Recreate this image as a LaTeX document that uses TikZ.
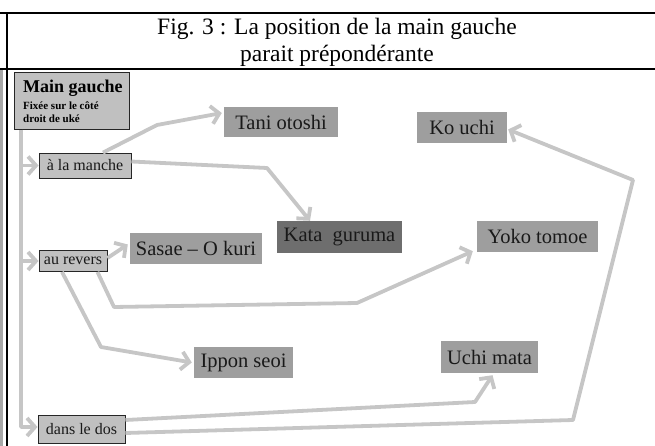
\documentclass[tikz,border=0pt]{standalone}
\usepackage{fontspec}
\setmainfont{Liberation Serif}
\usetikzlibrary{arrows.meta}
\definecolor{arrgray}{HTML}{C6C6C6}
\definecolor{boxlight}{HTML}{C0C0C0}
\definecolor{techgray}{HTML}{9E9E9E}
\definecolor{katagray}{HTML}{6E6E6E}
\definecolor{stripgray}{HTML}{A8A8A8}
\tikzset{
  frameline/.style={line width=2pt, black},
  smallbox/.style={draw=black!85, line width=0.9pt, fill=boxlight, inner sep=0pt,
     font=\fontsize{16}{17}\selectfont, text=black!90},
  techbox/.style={fill=techgray, inner sep=0pt, font=\fontsize{20.5}{22}\selectfont, text=black!90},
  katabox/.style={fill=katagray, inner sep=0pt, font=\fontsize{20.5}{22}\selectfont, text=black!90},
  mgline/.style={anchor=base west, inner sep=0pt, font=\bfseries\fontsize{11}{12}\selectfont},
  arrline/.style={draw=arrgray, line width=3.8pt, line join=round,
     -{Straight Barb[length=8pt,width=18pt]}}
}
\begin{document}
\begin{tikzpicture}[x=1pt,y=-1pt]
\useasboundingbox (0,0) rectangle (655,446);
% frame
\fill[stripgray] (0,69) rectangle (3,446);
\draw[frameline] (0,13) -- (655,13);
\draw[frameline] (0,69) -- (655,69);
\draw[frameline] (7,13) -- (7,446);
% title
\node[align=center, inner sep=0pt, font=\fontsize{23.5}{27.5}\selectfont] (title) at (337,42.5)
  {Fig. 3 : La position de la main gauche\\parait prépondérante};
% main box
\node[draw=black!85, line width=0.9pt, fill=boxlight, minimum width=115pt, minimum height=57pt,
      inner sep=0pt, anchor=north west] (mg) at (14,72) {};
\node[anchor=base west, inner sep=0pt, font=\bfseries\fontsize{18}{19}\selectfont] (mgt) at (23,93) {Main gauche};
\node[mgline] (mgs1) at (23,110) {Fixée sur le côté};
\node[mgline] (mgs2) at (23,122.5) {droit de uké};
% small boxes
\node[smallbox, minimum width=92pt, minimum height=25pt] (manche) at (85,165.5) {à la manche};
\node[smallbox, minimum width=68pt, minimum height=21pt] (revers) at (73,261) {au revers};
\node[smallbox, minimum width=87pt, minimum height=28pt] (dos) at (81.5,429) {dans le dos};
% technique boxes
\node[techbox, minimum width=114pt, minimum height=30pt] (tani) at (281,122) {Tani otoshi};
\node[katabox, minimum width=125pt, minimum height=32pt] (kata) at (339.5,237) {Kata~ guruma};
\node[techbox, minimum width=132pt, minimum height=31pt] (sasae) at (196,248.5) {Sasae – O kuri};
\node[techbox, minimum width=99pt, minimum height=31pt] (ippon) at (243.5,362.5) {Ippon seoi};
\node[techbox, minimum width=90pt, minimum height=31pt] (kouchi) at (462,127.5) {Ko uchi};
\node[techbox, minimum width=121pt, minimum height=31pt] (yoko) at (537.5,236.5) {Yoko tomoe};
\node[techbox, minimum width=97pt, minimum height=32pt] (uchi) at (489.5,357) {Uchi mata};
% bend coordinates
\coordinate (b1) at (157,125);
\coordinate (b2) at (267,168);
\coordinate (b3) at (114,307);
\coordinate (b4) at (357,303);
\coordinate (b5) at (101,347);
\coordinate (b6) at (475,402);
\coordinate (b7) at (573,420);
\coordinate (b8) at (633,180);
% arrows
\draw[arrline] ([xshift=7pt]mg.south west) |- (manche.west);
\draw[arrline] ([xshift=7pt]mg.south west) |- (revers.west);
\draw[arrline] ([xshift=7pt]mg.south west) |- ([yshift=2pt]dos.west);
\draw[arrline] ([xshift=18pt]manche.north) -- (b1) -- ([xshift=-2pt,yshift=9pt]tani.west);
\draw[arrline] ([yshift=4pt]manche.east) -- (b2) -- ([xshift=-29.5pt]kata.north);
\draw[arrline] ([yshift=3pt]revers.east) -- ([xshift=-2pt,yshift=4pt]sasae.west);
\draw[arrline] ([xshift=-10pt]revers.south east) -- (b3) -- (b4) -- ([xshift=-4pt,yshift=1pt]yoko.south west);
\draw[arrline] ([xshift=-11pt]revers.south) -- (b5) -- ([xshift=-2pt]ippon.west);
\draw[arrline] ([yshift=9pt]dos.east) -- (b6) -- ([xshift=3pt,yshift=-2pt]uchi.south);
\draw[arrline] ([yshift=-4pt]dos.east) -- (b7) -- (b8) -- ([xshift=1pt,yshift=-2pt]kouchi.east);
\end{tikzpicture}
\end{document}
